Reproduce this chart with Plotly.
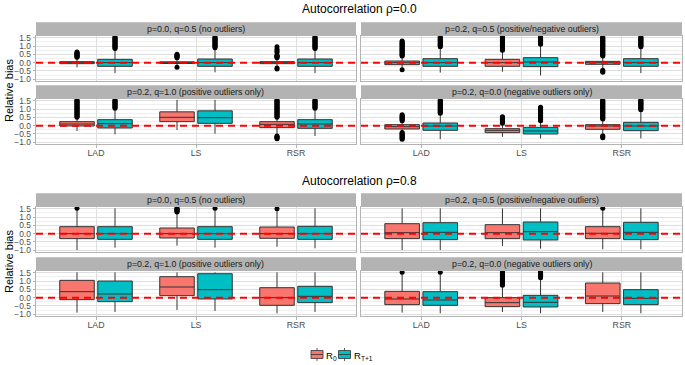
import plotly.graph_objects as go

W, H = 685, 365
FONT = "Liberation Sans, Arial, Helvetica, sans-serif"

methods = ["LAD", "LS", "RSR"]
series_names = ["R<sub>0</sub>", "R<sub>T+1</sub>"]
series_colors = ["#F8766D", "#00BFC4"]
group_titles = ["Autocorrelation ρ=0.0", "Autocorrelation ρ=0.8"]
scenario_labels = [
    "p=0.0, q=0.5 (no outliers)",
    "p=0.2, q=0.5 (positive/negative outliers)",
    "p=0.2, q=1.0 (positive outliers only)",
    "p=0.2, q=0.0 (negative outliers only)",
]
y_ticks = [-1.0, -0.5, 0.0, 0.5, 1.0, 1.5]
y_ticktext = ["−1.0", "−0.5", "0.0", "0.5", "1.0", "1.5"]
y_minor = [-0.75, -0.25, 0.25, 0.75, 1.25]

# panel order: rho=0.0 [no, pos/neg, pos, neg], rho=0.8 [no, pos/neg, pos, neg]
# each row: [LAD, LS, RSR]
R0_q1 = [[-0.06, -0.05, -0.06], [-0.12, -0.22, -0.10], [-0.02, 0.24, -0.12], [-0.20, -0.42, -0.22],
         [-0.30, -0.26, -0.28], [-0.30, -0.30, -0.30], [-0.12, 0.12, -0.46], [-0.42, -0.54, -0.36]]
R0_med = [[0.0, 0.0, 0.0], [0.0, 0.0, 0.0], [0.10, 0.50, 0.08], [-0.06, -0.28, -0.02],
          [0.0, 0.0, 0.0], [0.06, 0.06, 0.02], [0.36, 0.64, 0.0], [-0.08, -0.30, 0.10]]
R0_q3 = [[0.06, 0.05, 0.06], [0.10, 0.20, 0.08], [0.24, 0.83, 0.24], [0.06, -0.18, 0.06],
         [0.42, 0.34, 0.40], [0.60, 0.54, 0.42], [1.04, 1.26, 0.60], [0.38, 0.00, 0.88]]
R0_lo = [[-0.28, -0.18, -0.22], [-0.30, -0.54, -0.35], [-0.32, -0.26, -0.50], [-0.35, -0.67, -0.45],
         [-0.98, -0.72, -0.78], [-0.98, -0.74, -0.94], [-0.90, -0.74, -0.94], [-0.90, -0.86, -0.86]]
R0_hi = [[0.28, 0.25, 0.25], [0.35, 0.70, 0.35], [0.45, 1.55, 0.45], [0.25, 0.10, 0.35],
         [1.48, 1.25, 1.45], [1.52, 1.52, 1.45], [1.52, 1.52, 1.52], [1.50, 0.70, 1.52]]

RT_q1 = [[-0.22, -0.22, -0.22], [-0.22, -0.24, -0.22], [-0.14, 0.14, -0.16], [-0.28, -0.50, -0.30],
         [-0.34, -0.34, -0.34], [-0.36, -0.38, -0.36], [-0.24, -0.08, -0.30], [-0.46, -0.56, -0.42]]
RT_med = [[0.0, 0.0, 0.0], [0.0, 0.04, 0.0], [0.12, 0.48, 0.10], [-0.02, -0.32, -0.02],
          [0.0, 0.0, 0.0], [0.08, 0.12, 0.08], [0.22, 0.48, 0.08], [-0.14, -0.28, -0.04]]
RT_q3 = [[0.20, 0.22, 0.22], [0.24, 0.30, 0.24], [0.36, 0.89, 0.36], [0.16, -0.10, 0.20],
         [0.42, 0.42, 0.44], [0.66, 0.70, 0.68], [1.00, 1.44, 0.68], [0.36, 0.14, 0.48]]
RT_lo = [[-0.63, -0.58, -0.63], [-0.60, -0.77, -0.63], [-0.52, -0.48, -0.62], [-0.81, -0.77, -0.77],
         [-0.84, -0.84, -0.88], [-0.98, -0.90, -0.94], [-0.86, -0.80, -0.86], [-0.94, -0.94, -0.94]]
RT_hi = [[0.80, 0.85, 0.80], [0.90, 1.05, 0.90], [1.00, 1.55, 1.00], [0.70, 0.25, 0.90],
         [1.52, 1.50, 1.52], [1.52, 1.52, 1.52], [1.52, 1.52, 1.52], [1.50, 1.15, 1.52]]

R0_out = [
    [[0.32, 0.36, 0.40, 0.44, 0.48, 0.52, 0.56, 0.60, 0.64],
     [-0.27, 0.30, 0.34, 0.38, 0.42, 0.46, 0.50],
     [-0.38, -0.32, 0.30, 0.34, 0.38, 0.42, 0.46, 0.62, 0.72, 0.80, 0.95]],
    [[-0.42, 0.40, 0.45, 0.50, 0.55, 0.60, 0.65, 0.70, 0.75, 0.80, 0.85, 0.90, 0.95, 1.00, 1.05, 1.10, 1.15, 1.20, 1.25, 1.30],
     [0.75, 0.80, 0.85, 0.90, 0.95, 1.00, 1.05, 1.10, 1.15, 1.20, 1.25, 1.30, 1.35, 1.40, 1.45, 1.50, 1.55],
     [-0.58, -0.52, -0.46, 0.40, 0.45, 0.50, 0.55, 0.60, 0.65, 0.70, 0.75, 0.80, 0.85, 0.90, 0.95, 1.00,
      1.05, 1.10, 1.15, 1.20, 1.25, 1.30, 1.35, 1.40, 1.45, 1.50, 1.55]],
    [[0.50, 0.55, 0.60, 0.65, 0.70, 0.75, 0.80, 0.85, 0.90, 0.95, 1.00, 1.05, 1.10, 1.15, 1.20, 1.25, 1.30, 1.35, 1.40, 1.45, 1.50, 1.55],
     [],
     [-0.78, -0.74, -0.70, -0.66, -0.62, 0.50, 0.55, 0.60, 0.65, 0.70, 0.75, 0.80, 0.85, 0.90, 0.95, 1.00,
      1.05, 1.10, 1.15, 1.20, 1.25, 1.30, 1.35, 1.40, 1.45, 1.50, 1.55]],
    [[-0.81, -0.76, -0.71, -0.66, -0.61, -0.56, -0.51, -0.46, -0.41, 0.30, 0.35, 0.40, 0.45, 0.50, 0.55, 0.60, 0.65],
     [0.14, 0.19, 0.24, 0.29, 0.34, 0.39, 0.44, 0.49, 0.54],
     [-0.72, -0.66, -0.60, 0.40, 0.45, 0.50, 0.55, 0.60, 0.65, 0.70, 0.75, 0.80, 0.85, 0.90, 0.95, 1.00,
      1.05, 1.10, 1.15, 1.20, 1.25, 1.30, 1.35, 1.40, 1.45, 1.50, 1.55]],
    [[1.52], [1.30, 1.34, 1.38, 1.42, 1.46, 1.50, 1.54], [1.50]],
    [[], [], [1.52]],
    [[], [], []],
    [[1.53], [0.75, 0.80, 0.85, 0.90, 0.95, 1.00, 1.05, 1.10, 1.15, 1.20, 1.25, 1.30, 1.35, 1.40, 1.45, 1.50, 1.55], []],
]
RT_out = [
    [[0.85, 0.90, 0.95, 1.00, 1.05, 1.10, 1.15, 1.20, 1.25, 1.30, 1.35, 1.40, 1.45, 1.50, 1.55],
     [0.90, 0.95, 1.00, 1.05, 1.10, 1.15, 1.20, 1.25, 1.30, 1.35, 1.40, 1.45, 1.50, 1.55],
     [0.85, 0.90, 0.95, 1.00, 1.05, 1.10, 1.15, 1.20, 1.25, 1.30, 1.35, 1.40, 1.45, 1.50, 1.55]],
    [[0.95, 1.00, 1.05, 1.10, 1.15, 1.20, 1.25, 1.30, 1.35, 1.40, 1.45, 1.50, 1.55],
     [1.10, 1.15, 1.20, 1.25, 1.30, 1.35, 1.40, 1.45, 1.50, 1.55],
     [0.95, 1.00, 1.05, 1.10, 1.15, 1.20, 1.25, 1.30, 1.35, 1.40, 1.45, 1.50, 1.55]],
    [[1.05, 1.10, 1.15, 1.20, 1.25, 1.30, 1.35, 1.40, 1.45, 1.50, 1.55],
     [],
     [1.05, 1.10, 1.15, 1.20, 1.25, 1.30, 1.35, 1.40, 1.45, 1.50, 1.55]],
    [[0.75, 0.80, 0.85, 0.90, 0.95, 1.00, 1.05, 1.10, 1.15, 1.20, 1.25, 1.30, 1.35, 1.40, 1.45, 1.50, 1.55],
     [0.30, 0.35, 0.40, 0.45, 0.50, 0.55, 0.60, 0.65, 0.70, 0.75, 0.80, 0.85, 0.90, 0.95, 1.00, 1.05, 1.10],
     [0.95, 1.00, 1.05, 1.10, 1.15, 1.20, 1.25, 1.30, 1.35, 1.40, 1.45, 1.50, 1.55]],
    [[], [1.53], []],
    [[], [], []],
    [[], [], []],
    [[1.53], [1.20, 1.25, 1.30, 1.35, 1.40, 1.45, 1.50, 1.55], []],
]

stats = [
    (R0_q1, R0_med, R0_q3, R0_lo, R0_hi, R0_out),
    (RT_q1, RT_med, RT_q3, RT_lo, RT_hi, RT_out),
]

# ---- layout geometry (pixels) ----
x_dom_px = [(36.0, 356.0), (361.0, 682.0)]
rows_px = [(22.3, 35.7, 81.3), (85.3, 98.7, 144.3), (193.3, 206.7, 252.3), (257.3, 270.7, 316.3)]
dodge = [-0.19, 0.19]
box_w = 0.345
y_range = [-1.12, 1.62]
EDGE = "#333333"

fig = go.Figure()
layout = dict(shapes=[], annotations=[])

for k in range(8):
    g, s = divmod(k, 4)
    row = g * 2 + s // 2
    col = s % 2
    ax = "" if k == 0 else str(k + 1)
    xa, ya = "x" + ax, "y" + ax
    x0p, x1p = x_dom_px[col]
    st, pt, pb = rows_px[row]
    xdom = [x0p / W, x1p / W]
    ydom = [1 - pb / H, 1 - pt / H]
    bottom = (s // 2 == 1)
    left = (col == 0)

    layout["xaxis" + ax] = dict(
        domain=xdom, anchor=ya, range=[0.4, 3.6], tickmode="array",
        tickvals=[i + 1 for i in range(len(methods))], ticktext=methods,
        showticklabels=bottom, ticks="outside" if bottom else "", ticklen=2.5,
        ticklabelstandoff=-2,
        tickcolor="#B3B3B3", tickfont=dict(size=8.8, color="#4D4D4D", family=FONT),
        showgrid=True, gridcolor="#DEDEDE", gridwidth=0.6, zeroline=False,
        showline=True, mirror=True, linecolor="#B3B3B3", linewidth=1, fixedrange=True,
        automargin=False,
    )
    layout["yaxis" + ax] = dict(
        domain=ydom, anchor=xa, range=y_range, tickmode="array",
        tickvals=y_ticks, ticktext=y_ticktext, showticklabels=left,
        ticks="outside" if left else "", ticklen=2.5, tickcolor="#B3B3B3",
        tickfont=dict(size=8.4, color="#4D4D4D", family=FONT),
        showgrid=True, gridcolor="#DEDEDE", gridwidth=0.6, zeroline=False,
        minor=dict(tickvals=y_minor, showgrid=True, gridcolor="#F0F0F0", gridwidth=0.4, ticks=""),
        showline=True, mirror=True, linecolor="#B3B3B3", linewidth=1, fixedrange=True,
        automargin=False,
    )

    for j in range(2):
        q1, med, q3, lo, hi, out = stats[j]
        xs = [i + 1 + dodge[j] for i in range(len(methods))]
        fig.add_trace(go.Box(
            x=xs, q1=q1[k], median=med[k], q3=q3[k], lowerfence=lo[k], upperfence=hi[k],
            width=box_w, fillcolor=series_colors[j], line=dict(color=EDGE, width=1),
            whiskerwidth=0, boxpoints=False, name=series_names[j], legendgroup=str(j),
            showlegend=False, xaxis=xa, yaxis=ya, hoverinfo="skip",
        ))
        ox, oy = [], []
        for i in range(len(methods)):
            for v in out[k][i]:
                ox.append(xs[i])
                oy.append(v)
        if ox:
            fig.add_trace(go.Scatter(
                x=ox, y=oy, mode="markers", marker=dict(color="black", size=5),
                showlegend=False, xaxis=xa, yaxis=ya, hoverinfo="skip", cliponaxis=True,
            ))

    # zero reference line
    layout["shapes"].append(dict(
        type="line", xref=xa + " domain", yref=ya, x0=0, x1=1, y0=0, y1=0,
        line=dict(color="#FF0000", width=2, dash="7px,5px"), layer="above",
    ))
    # strip
    layout["shapes"].append(dict(
        type="rect", xref="paper", yref="paper", x0=xdom[0], x1=xdom[1],
        y0=1 - pt / H, y1=1 - st / H, fillcolor="#B3B3B3", line=dict(width=0), layer="above",
    ))
    layout["annotations"].append(dict(
        text=scenario_labels[s], xref="paper", yref="paper", x=(xdom[0] + xdom[1]) / 2,
        y=1 - (st + pt) / 2 / H, showarrow=False, xanchor="center", yanchor="middle",
        font=dict(size=8.8, color="#1A1A1A", family=FONT),
    ))

# group titles and y-axis titles
title_y_px = [9.0, 180.7]
ytitle_y_px = [90.5, 261.5]
for g in range(2):
    layout["annotations"].append(dict(
        text=group_titles[g], xref="paper", yref="paper", x=359 / W, y=1 - title_y_px[g] / H,
        showarrow=False, xanchor="center", yanchor="middle",
        font=dict(size=12, color="black", family=FONT),
    ))
    layout["annotations"].append(dict(
        text="Relative bias", xref="paper", yref="paper", x=8.5 / W, y=1 - ytitle_y_px[g] / H,
        showarrow=False, xanchor="center", yanchor="middle", textangle=-90,
        font=dict(size=11, color="black", family=FONT),
    ))

# legend (drawn as keys + text, laid out like the ggplot guide at the bottom)
key_left_px = [311.0, 338.5]
key_w, key_box_h, key_h = 12.0, 8.0, 13.0
legend_cy = 354.5
for j in range(2):
    kx0 = key_left_px[j]
    kx1 = kx0 + key_w
    kxc = (kx0 + kx1) / 2
    layout["shapes"].append(dict(
        type="line", xref="paper", yref="paper", x0=kxc / W, x1=kxc / W,
        y0=1 - (legend_cy - key_h / 2) / H, y1=1 - (legend_cy + key_h / 2) / H,
        line=dict(color=EDGE, width=0.8),
    ))
    layout["shapes"].append(dict(
        type="rect", xref="paper", yref="paper", x0=kx0 / W, x1=kx1 / W,
        y0=1 - (legend_cy - key_box_h / 2) / H, y1=1 - (legend_cy + key_box_h / 2) / H,
        fillcolor=series_colors[j], line=dict(color=EDGE, width=0.8),
    ))
    layout["shapes"].append(dict(
        type="line", xref="paper", yref="paper", x0=kx0 / W, x1=kx1 / W,
        y0=1 - legend_cy / H, y1=1 - legend_cy / H, line=dict(color=EDGE, width=0.8),
    ))
    layout["annotations"].append(dict(
        text=series_names[j], xref="paper", yref="paper", x=(kx1 + 1.0) / W, y=1 - (legend_cy + 1.0) / H,
        showarrow=False, xanchor="left", yanchor="middle",
        font=dict(size=9.5, color="black", family=FONT),
    ))

fig.update_layout(
    template="none", width=W, height=H, autosize=False,
    margin=dict(l=0, r=0, t=0, b=0, pad=0),
    paper_bgcolor="white", plot_bgcolor="white", boxmode="overlay",
    font=dict(family=FONT, size=11, color="black"), showlegend=False,
    **layout,
)

fig.write_html(
    "out.html",
    config={"displayModeBar": False},
    post_script="document.body.style.margin='0';document.body.style.overflow='hidden';",
)
